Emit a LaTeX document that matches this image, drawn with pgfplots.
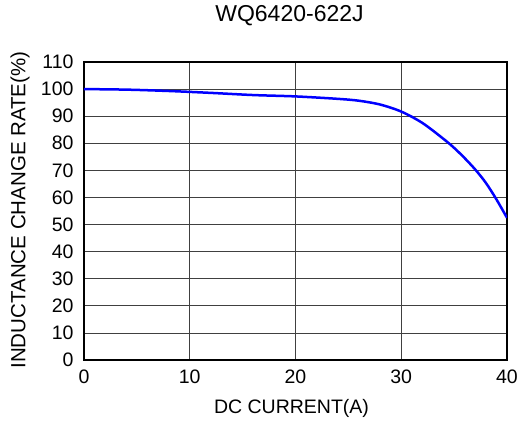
\documentclass[border=0pt]{standalone}
\usepackage{pgfplots}
\pgfplotsset{compat=1.18}
\usepackage{fontspec}
\setmainfont{Liberation Sans}
\begin{document}
\begin{tikzpicture}
\begin{axis}[
  width=423pt, height=298pt, scale only axis,
  xmin=0, xmax=40, ymin=0, ymax=110,
  xtick={0,10,...,40}, ytick={0,10,...,110},
  major tick length=0pt,
  grid=major,
  major grid style={black!75, line width=0.8pt},
  axis line style={black, line width=1.2pt},
  /pgf/number format/assume math mode=true,
  tick label style={font=\fontsize{19.5}{22}\selectfont},
  xticklabel style={yshift=-6pt},
  yticklabel style={xshift=-7pt},
  title={WQ6420-622J},
  title style={font=\fontsize{23}{26}\selectfont, at={(axis description cs:0.5,1)}, anchor=center, yshift=40pt, xshift=-6pt},
  xlabel={DC CURRENT(A)},
  xlabel style={font=\fontsize{19.5}{22}\selectfont, at={(axis description cs:0.5,0)}, anchor=center, yshift=-48pt, xshift=-4pt},
  ylabel={INDUCTANCE CHANGE RATE(\%)},
  ylabel style={font=\fontsize{20.5}{22}\selectfont, at={(axis description cs:0,0.5)}, anchor=center, yshift=64pt, xshift=1pt},
]
\addplot[blue, line width=2.5pt, smooth, tension=0.5] coordinates {
(0,100) (4,99.8) (8,99.3) (12,98.6) (16,97.8) (20,97.3) (24,96.4) (26,95.7) (28,94.3) (30,91.7) (32,87.5) (34,81.6) (35,78.3) (36,74.5) (37,70.3) (38,65.4) (39,59.3) (40,52.5)
};
\end{axis}
\pgfresetboundingbox
\useasboundingbox ([xshift=-84pt,yshift=-61pt]current axis.south west) rectangle ([xshift=10pt,yshift=62pt]current axis.north east);
\end{tikzpicture}
\end{document}
